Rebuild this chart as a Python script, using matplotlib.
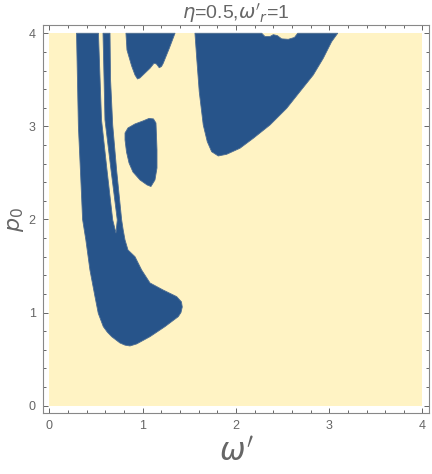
import matplotlib
matplotlib.use('Agg')
import matplotlib.pyplot as plt
from matplotlib.patches import Polygon, Rectangle
from matplotlib.ticker import MultipleLocator

# region boundaries (omega', p0)
left_band_w = [0.29, 0.31, 0.333, 0.355, 0.39, 0.434, 0.488, 0.523, 0.577, 0.62, 0.667,
               0.756, 0.81, 0.863, 0.935, 1.078, 1.239, 1.381, 1.41, 1.424, 1.415, 1.364,
               1.217, 1.078, 0.989, 0.917, 0.842, 0.81, 0.79, 0.774, 0.72, 0.678, 0.655,
               0.649, 0.574, 0.595, 0.66, 0.727, 0.713, 0.678, 0.617, 0.558, 0.525]
left_band_p = [4.0, 3.0, 2.5, 2.0, 1.78, 1.456, 1.171, 0.992, 0.849, 0.79, 0.741,
               0.673, 0.65, 0.641, 0.663, 0.741, 0.849, 0.956, 1.0, 1.06, 1.115, 1.171,
               1.243, 1.318, 1.456, 1.6, 1.672, 1.78, 1.89, 1.995, 2.53, 3.015, 3.5,
               4.0, 4.0, 3.07, 2.53, 1.995, 1.855, 1.995, 2.53, 3.07, 4.0]

upper_mid_w = [0.82, 0.831, 0.881, 0.917, 0.944, 0.97, 1.003, 1.078, 1.121, 1.147,
               1.177, 1.201, 1.22, 1.285, 1.346]
upper_mid_p = [4.0, 3.82, 3.649, 3.552, 3.509, 3.52, 3.552, 3.624, 3.678, 3.67,
               3.63, 3.643, 3.678, 3.839, 4.0]

island_w = [0.81, 0.842, 0.917, 1.003, 1.067, 1.115, 1.142, 1.147, 1.153, 1.153,
            1.131, 1.088, 1.046, 0.971, 0.895, 0.853, 0.826, 0.81]
island_p = [2.929, 2.983, 3.026, 3.058, 3.085, 3.08, 3.036, 2.908, 2.747, 2.553,
            2.424, 2.354, 2.371, 2.424, 2.51, 2.607, 2.725, 2.854]

right_w = [1.56, 1.579, 1.606, 1.649, 1.692, 1.739, 1.81, 1.9, 2.043, 2.186,
           2.365, 2.544, 2.686, 2.829, 2.936, 3.026, 3.091,
           2.662, 2.627, 2.561, 2.49, 2.443, 2.4, 2.365, 2.311, 2.276]
right_p = [4.0, 3.731, 3.373, 3.015, 2.836, 2.728, 2.682, 2.7, 2.765, 2.872,
           3.015, 3.194, 3.373, 3.552, 3.731, 3.91, 4.0,
           4.0, 3.955, 3.935, 3.94, 3.975, 3.985, 3.965, 3.965, 4.0]

regions = [(left_band_w, left_band_p), (upper_mid_w, upper_mid_p),
           (island_w, island_p), (right_w, right_p)]

blue = '#27548a'
yellow = '#fff3c4'
grey = '#666666'

plt.rcParams['font.family'] = ['Liberation Sans Narrow', 'Liberation Sans', 'DejaVu Sans']

fig = plt.figure(figsize=(4.32, 4.74), dpi=100)
ax = fig.add_axes([0.0988, 0.1281, 0.8949, 0.8192])

ax.add_patch(Rectangle((0, 0), 4, 4, facecolor=yellow, edgecolor='none', zorder=1))
for w, p in regions:
    ax.add_patch(Polygon(list(zip(w, p)), closed=True, facecolor=blue,
                         edgecolor='#4d6d93', linewidth=0.6, joinstyle='round', zorder=2))

ax.set_xlim(-0.073, 4.073)
ax.set_ylim(-0.082, 4.089)
ax.xaxis.set_major_locator(MultipleLocator(1))
ax.yaxis.set_major_locator(MultipleLocator(1))
ax.xaxis.set_minor_locator(MultipleLocator(0.2))
ax.yaxis.set_minor_locator(MultipleLocator(0.2))
ax.tick_params(which='both', direction='in', top=True, right=True, colors=grey,
               width=0.7)
ax.tick_params(which='major', length=3.5, labelsize=9, pad=5)
ax.tick_params(which='minor', length=2)
for s in ax.spines.values():
    s.set_color('#888888')
    s.set_linewidth(0.8)

ax.set_title(r"$\eta$=0.5,$\omega'_r$=1", fontsize=14, color=grey, pad=4)
ax.set_xlabel(r"$\omega'$", fontsize=22, color=grey, labelpad=4)
ax.set_ylabel(r"$p_0$", fontsize=16, color=grey, labelpad=2)

fig.savefig('out.png', dpi=100)
